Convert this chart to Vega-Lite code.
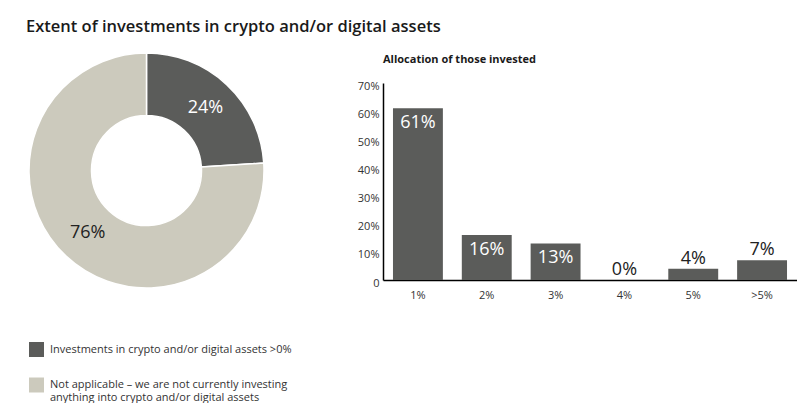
{
  "$schema": "https://vega.github.io/schema/vega-lite/v6.json",
  "background": "white",
  "padding": {"left": 26, "top": 18, "right": 0, "bottom": 0},
  "title": {
    "text": "Extent of investments in crypto and/or digital assets",
    "anchor": "start",
    "font": "Open Sans",
    "fontSize": 16.5,
    "fontWeight": 600,
    "color": "#1a1a1a",
    "offset": 15
  },
  "config": {
    "view": {"stroke": null},
    "font": "Open Sans"
  },
  "spacing": 90,
  "hconcat": [
    {
      "width": 235,
      "height": 235,
      "data": {
        "values": [
          {"category": "Investments in crypto and/or digital assets >0%", "share": 0.24},
          {"category": "Not applicable – we are not currently investing anything into crypto and/or digital assets", "share": 0.76}
        ]
      },
      "encoding": {
        "theta": {"field": "share", "type": "quantitative", "stack": true}
      },
      "layer": [
        {
          "mark": {"type": "arc", "outerRadius": 117.5, "innerRadius": 55, "stroke": "white", "strokeWidth": 1.5},
          "encoding": {
            "color": {
              "field": "category",
              "type": "nominal",
              "scale": {
                "domain": [
                  "Investments in crypto and/or digital assets >0%",
                  "Not applicable – we are not currently investing anything into crypto and/or digital assets"
                ],
                "range": ["#5b5c5a", "#cccabd"]
              },
              "legend": {
                "title": null,
                "orient": "none",
                "legendX": 0,
                "legendY": 289,
                "direction": "vertical",
                "symbolType": "square",
                "symbolSize": 225,
                "symbolStrokeWidth": 0,
                "symbolOpacity": 1,
                "labelFontSize": 11,
                "labelColor": "#333333",
                "labelLimit": 0,
                "labelOffset": 6,
                "rowPadding": 20.5,
                "labelExpr": "datum.label == 'Investments in crypto and/or digital assets >0%' ? datum.label : ['Not applicable – we are not currently investing', 'anything into crypto and/or digital assets']"
              }
            }
          }
        },
        {
          "mark": {"type": "text", "radius": 86, "fontSize": 18},
          "encoding": {
            "text": {"field": "share", "type": "quantitative", "format": ".0%"},
            "color": {"condition": {"test": "datum.share < 0.5", "value": "white"}, "value": "#222222"}
          }
        }
      ]
    },
    {
      "width": 414,
      "height": 227,
      "title": {
        "text": "Allocation of those invested",
        "anchor": "start",
        "frame": "group",
        "fontSize": 11,
        "fontWeight": "bold",
        "color": "#1a1a1a",
        "offset": -12
      },
      "data": {
        "values": [
          {"allocation": "1%", "share": 0.61},
          {"allocation": "2%", "share": 0.16},
          {"allocation": "3%", "share": 0.13},
          {"allocation": "4%", "share": 0.0},
          {"allocation": "5%", "share": 0.04},
          {"allocation": ">5%", "share": 0.07}
        ]
      },
      "encoding": {
        "x": {
          "field": "allocation",
          "type": "ordinal",
          "sort": null,
          "scale": {"paddingInner": 0.275, "paddingOuter": 0.145},
          "axis": {
            "title": null,
            "labelAngle": 0,
            "ticks": false,
            "domainColor": "black",
            "domainWidth": 1.5,
            "labelPadding": 9,
            "labelFontSize": 11,
            "labelColor": "#333333"
          }
        },
        "y": {
          "field": "share",
          "type": "quantitative",
          "scale": {"domain": [0, 0.7], "range": [227, 30]},
          "axis": {
            "title": null,
            "values": [0, 0.1, 0.2, 0.3, 0.4, 0.5, 0.6, 0.7],
            "format": ".0%",
            "labelExpr": "datum.value == 0 ? '0' : datum.label",
            "grid": false,
            "ticks": false,
            "domainColor": "black",
            "domainWidth": 1.5,
            "labelPadding": 4,
            "labelOffset": 3,
            "labelFontSize": 11,
            "labelColor": "#333333"
          }
        }
      },
      "layer": [
        {"mark": {"type": "bar", "color": "#5b5c5a"}},
        {
          "transform": [{"filter": "datum.share >= 0.1"}],
          "mark": {"type": "text", "fontSize": 18, "baseline": "middle", "dy": 15, "color": "white"},
          "encoding": {"text": {"field": "share", "type": "quantitative", "format": ".0%"}}
        },
        {
          "transform": [{"filter": "datum.share < 0.1"}],
          "mark": {"type": "text", "fontSize": 18, "baseline": "middle", "dy": -10, "color": "#222222"},
          "encoding": {"text": {"field": "share", "type": "quantitative", "format": ".0%"}}
        }
      ]
    }
  ]
}
